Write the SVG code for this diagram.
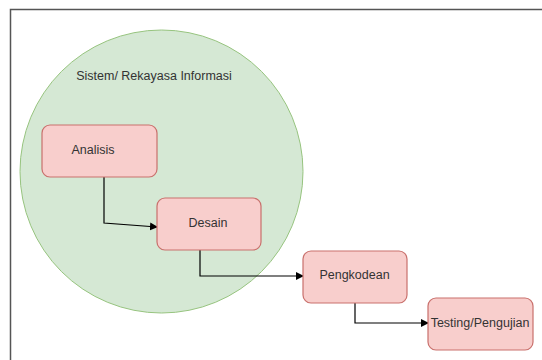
<svg xmlns="http://www.w3.org/2000/svg" width="542" height="360" viewBox="0 0 542 360">
<style>
.box{fill:#f8cecc;stroke:#c9706c;stroke-width:1.2}
.lbl{font-family:"Liberation Sans",Arial,sans-serif;font-size:12.5px;fill:#333;text-anchor:middle;dominant-baseline:central}
.edge{fill:none;stroke:#000;stroke-width:1.2}
</style>
<defs>
<marker id="ah" markerWidth="8" markerHeight="8" refX="7" refY="4" orient="auto" markerUnits="userSpaceOnUse">
<path d="M0,0 L8,4 L0,8 Z" fill="#000"/>
</marker>
</defs>
<rect width="542" height="360" fill="#fff"/>
<path d="M10.5,360 V9.5 H542" fill="none" stroke="#555" stroke-width="1.5"/>
<g id="sistem">
<circle cx="161.5" cy="171.5" r="141.5" fill="#d5e8d4" stroke="#97c47f" stroke-width="1"/>
<text class="lbl" x="154" y="76">Sistem/ Rekayasa Informasi</text>
</g>
<g id="connectors">
<path class="edge" d="M104,177 V223 L157,227" marker-end="url(#ah)"/>
<path class="edge" d="M200,250 V276 H303" marker-end="url(#ah)"/>
<path class="edge" d="M355,303 V323 H428" marker-end="url(#ah)"/>
</g>
<g id="analisis">
<rect class="box" x="42" y="125" width="115" height="52" rx="8"/>
<text class="lbl" x="93" y="150">Analisis</text>
</g>
<g id="desain">
<rect class="box" x="157" y="198" width="104" height="52" rx="8"/>
<text class="lbl" x="208" y="223">Desain</text>
</g>
<g id="pengkodean">
<rect class="box" x="303" y="251" width="104" height="52" rx="8"/>
<text class="lbl" x="354.5" y="275">Pengkodean</text>
</g>
<g id="testing">
<rect class="box" x="428" y="298" width="105" height="52" rx="8"/>
<text class="lbl" x="480" y="323">Testing/Pengujian</text>
</g>
</svg>
